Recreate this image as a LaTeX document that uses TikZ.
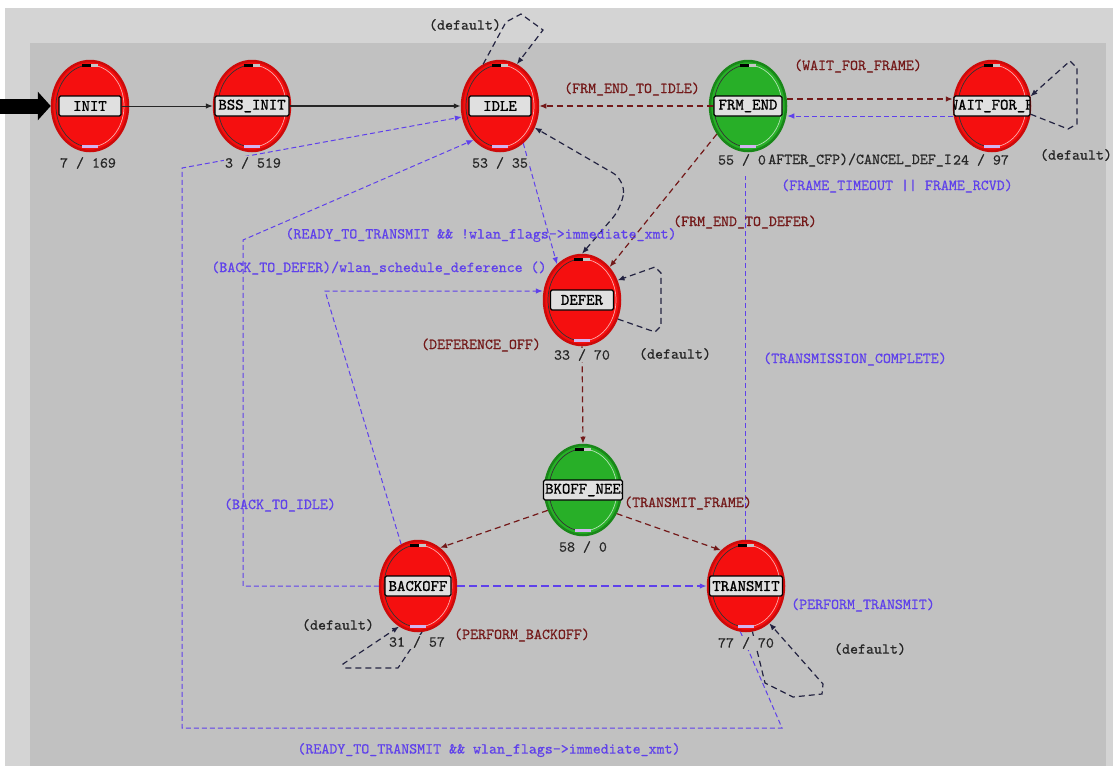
\documentclass[tikz,border=0pt]{standalone}
\usepackage{fontspec}
\newfontfamily\mono[FakeBold=0.5]{lmmono10-regular.otf}
\newfontfamily\monob[FakeBold=1.2]{lmmono10-regular.otf}
\usetikzlibrary{arrows.meta,shapes.geometric}

\definecolor{bgout}{RGB}{212,212,212}
\definecolor{bgin}{RGB}{193,193,193}
\definecolor{stred}{RGB}{245,15,15}
\definecolor{stredD}{RGB}{205,10,10}
\definecolor{stgreen}{RGB}{40,175,40}
\definecolor{stgreenD}{RGB}{25,135,25}
\definecolor{lblfill}{RGB}{224,224,224}
\definecolor{blueC}{RGB}{95,65,235}
\definecolor{maroonC}{RGB}{115,25,25}
\definecolor{navyC}{RGB}{35,35,65}
\definecolor{lav}{RGB}{210,180,240}

% one state: ellipse body, inner rings, top and bottom markers
\newcommand\mkstate[4]{%
  \node[state, fill=#3, draw=#4] (#1) at (#2) {};
  \draw[white!65!#3, line width=0.7pt]
    (#1.center) ++(-80:34pt and 41pt) arc[start angle=-80, end angle=80, x radius=34pt, y radius=41pt];
  \draw[black!80, line width=0.7pt]
    (#1.center) ++(100:34pt and 41pt) arc[start angle=100, end angle=260, x radius=34pt, y radius=41pt];
  \fill[black] ([shift={(-8pt,-4pt)}]#1.north) rectangle ++(9pt,-3pt);
  \fill[gray!45] ([shift={(1pt,-4pt)}]#1.north) rectangle ++(7pt,-3pt);
  \fill[lav] ([shift={(-8pt,4pt)}]#1.south) rectangle ++(16pt,3pt);
}

\begin{document}
\begin{tikzpicture}[x=1pt,y=-1pt,
  state/.style={ellipse, minimum width=76pt, minimum height=90pt, line width=2.5pt, inner sep=0pt},
  lbl/.style={rectangle, draw=black, line width=1.3pt, fill=lblfill, rounded corners=1.5pt,
    minimum height=20pt, minimum width=#1, inner sep=0pt, text=black,
    font=\monob\fontsize{16}{16}\selectfont},
  cliptext/.style 2 args={path picture={\node[anchor=west, inner sep=0pt, text=black,
    font=\monob\fontsize{16}{16}\selectfont] at ([xshift=#1]path picture bounding box.west) {#2};}},
  txt/.style={inner sep=0.5pt, font=\mono\fontsize{15.2}{16}\selectfont},
  cnt/.style={txt, text=black!85, fill=bgin, inner sep=1pt},
  bt/.style={txt, text=blueC},
  mt/.style={txt, text=maroonC},
  kt/.style={txt, text=black!85},
  arr/.style={-{Latex[length=7pt,width=5.5pt]}},
  arr2/.style={{Latex[length=7pt,width=5.5pt]}-{Latex[length=7pt,width=5.5pt]}},
  blu/.style={draw=blueC, line width=1pt, dash pattern=on 5pt off 3pt},
  mar/.style={draw=maroonC, line width=1.2pt, dash pattern=on 6pt off 4pt},
  blk/.style={draw=navyC, line width=1.2pt, dash pattern=on 6pt off 4pt},
]
\useasboundingbox (0,0) rectangle (1113,766);
\fill[white] (0,0) rectangle (1113,766);
\fill[bgout] (5,8) rectangle (1113,766);
\fill[bgin] (30,43) rectangle (1106,766);

% states
\mkstate{init}{90,106}{stred}{stredD}
\mkstate{bss}{252,106}{stred}{stredD}
\mkstate{idle}{500,106}{stred}{stredD}
\mkstate{frm}{748,106}{stgreen}{stgreenD}
\mkstate{wait}{992,106}{stred}{stredD}
\mkstate{defer}{582,300}{stred}{stredD}
\mkstate{bkoff}{583,490}{stgreen}{stgreenD}
\mkstate{backoff}{418,586}{stred}{stredD}
\mkstate{trans}{746,586}{stred}{stredD}

% state name boxes
\node[lbl=62pt] (initL) at (init) {INIT};
\node[lbl=74pt] (bssL) at (bss) {BSS\_INIT};
\node[lbl=62pt] (idleL) at (idle) {IDLE};
\node[lbl=68pt] (frmL) at (frm) {FRM\_END};
\node[lbl=76pt, cliptext={-5pt}{WAIT\_FOR\_FRAME}] (waitL) at (wait) {};
\node[lbl=63pt] (deferL) at (defer) {DEFER};
\node[lbl=79pt, cliptext={1pt}{BKOFF\_NEED}] (bkoffL) at (bkoff) {};
\node[lbl=66pt] (backoffL) at (backoff) {BACKOFF};
\node[lbl=73pt] (transL) at (trans) {TRANSMIT};

% entry arrow
\coordinate (entry) at (0,106);
\draw[line width=15pt, -{Triangle[length=13pt,width=28pt]}] (entry) -- (init.west);

% solid transitions
\draw[black!85, line width=1pt, arr] (initL.east) -- (bss.west);
\draw[black!85, line width=2pt, arr] (bssL.east) -- (idle.west);

% IDLE default loop
\draw[blk, arr] (idle.112) -- (506,22) -- (521,14) -- (543,30) -- (idle.68);

% FRM_END <-> IDLE / WAIT_FOR_FRAME
\draw[mar, arr] (frmL.west) -- (idle.east);
\draw[mar, arr] (frm.east |- 0,99) -- (wait.west |- 0,99);
\draw[blu, arr] (wait.west |- 0,116) -- (frm.east |- 0,116);

% WAIT_FOR_FRAME default loop
\draw[blk, arr] (wait.-12) -- (1068,129) -- (1077,124) -- (1077,68) -- (1070,61) -- (wait.14);

% FRM_END -> DEFER
\draw[mar, arr] (frm.222) -- (defer.50);

% TRANSMIT -> FRM_END
\coordinate (tcTop) at (745,176);
\draw[blu] (trans.north -| tcTop) -- (tcTop);

% IDLE <-> DEFER
\draw[blk, arr2, rounded corners=14pt] (defer.north) -- (622,207) -- (625,180) -- (idle.-32);

% IDLE -> DEFER
\draw[blu, arr] (idle.-58) -- (defer.125);

% BACKOFF -> DEFER
\coordinate (bd) at (325,291);
\draw[blu, arr] (backoff.112) -- (bd) -- (bd -| defer.west);

% BACKOFF -> IDLE
\coordinate (bi) at (243,240);
\draw[blu, arr] (backoff.west) -| (bi) -- (idle.232);

% outer route between TRANSMIT and IDLE
\coordinate (o1) at (182,168);
\coordinate (o2) at (182,728);
\coordinate (o3) at (782,728);
\draw[blu, arr] (trans.-97) -- (o3) -- (o2) -- (o1) -- (idle.196);

% DEFER default loop
\draw[blk, arr] (defer.-28) -- (655,332) -- (661,326) -- (661,273) -- (655,267) -- (defer.29);

% DEFER -> BKOFF_NEED -> BACKOFF / TRANSMIT
\draw[mar, arr] (defer.south) -- (bkoff.north);
\draw[mar, arr] (bkoff.210) -- (backoff.60);
\draw[mar, arr] (bkoff.-35) -- (trans.125);

% BACKOFF -> TRANSMIT
\draw[draw=blueC, line width=2.2pt, dash pattern=on 8pt off 4pt, arr] (backoff.east) -- (trans.west);

% BACKOFF default loop
\draw[blk, arr] (backoff.-85) -- (398,668) -- (345,668) -- (343,664) -- (backoff.245);

% TRANSMIT default loop
\draw[blk, arr] (trans.-82) -- (765,683) -- (793,697) -- (822,694) -- (823,684) -- (trans.-58);

% transition labels
\node[kt] (lidle) at (465,25) {(default)};
\node[mt] (lfi) at (632,89) {(FRM\_END\_TO\_IDLE)};
\node[mt] (lwf) at (858,66) {(WAIT\_FOR\_FRAME)};
\node[bt] (lft) at (897,186) {(FRAME\_TIMEOUT || FRAME\_RCVD)};
\node[kt] (lwait) at (1076,155) {(default)};
\node[kt] (lcfp) at (860,160) {AFTER\_CFP)/CANCEL\_DEF\_I};
\node[mt] (lfd) at (745,222) {(FRM\_END\_TO\_DEFER)};
\node[bt] (lrn) at (481,235) {(READY\_TO\_TRANSMIT \&\& !wlan\_flags->immediate\_xmt)};
\node[bt] (lbd) at (379,268) {(BACK\_TO\_DEFER)/wlan\_schedule\_deference ()};
\node[mt] (ldo) at (481,345) {(DEFERENCE\_OFF)};
\node[kt] (ldefer) at (675,354) {(default)};
\node[bt] (ltc) at (855,359) {(TRANSMISSION\_COMPLETE)};
\node[bt] (lbi) at (280,505) {(BACK\_TO\_IDLE)};
\node[mt] (ltf) at (688,503) {(TRANSMIT\_FRAME)};
\node[kt] (lback) at (338,625) {(default)};
\node[mt] (lpb) at (522,635) {(PERFORM\_BACKOFF)};
\node[bt] (lpt) at (863,605) {(PERFORM\_TRANSMIT)};
\node[kt] (ltrans) at (870,649) {(default)};
\node[bt] (lri) at (489,750) {(READY\_TO\_TRANSMIT \&\& wlan\_flags->immediate\_xmt)};

% counters under the states
\node[cnt] (cinit) at (88,163) {7 / 169};
\node[cnt] (cbss) at (253,163) {3 / 519};
\node[cnt] (cidle) at (500,163) {53 / 35};
\node[cnt] (cfrm) at (742,160) {55 / 0};
\node[cnt] (cwait) at (981,160) {24 / 97};
\node[cnt] (cdefer) at (582,355) {33 / 70};
\node[cnt] (cbkoff) at (583,547) {58 / 0};
\node[cnt] (cbackoff) at (417,642) {31 / 57};
\node[cnt] (ctrans) at (746,643) {77 / 70};
\end{tikzpicture}
\end{document}
